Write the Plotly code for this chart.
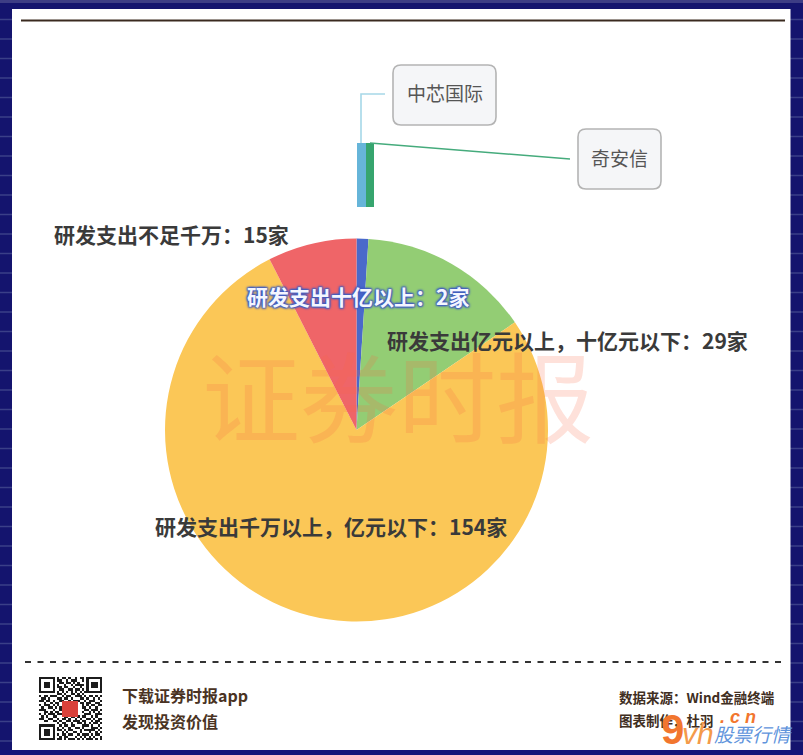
import plotly.graph_objects as go

W, H = 803, 755
FONT = "Noto Sans CJK SC"

# ---- data ----
pie_names = ["研发支出十亿以上", "研发支出亿元以上，十亿元以下", "研发支出千万以上，亿元以下", "研发支出不足千万"]
pie_values = [2, 29, 154, 15]
pie_colors = ["#4a69cb", "#93cd74", "#fbc757", "#ef6568"]
detail_names = ["中芯国际", "奇安信"]
detail_values = [1, 1]
detail_colors = ["#66b5d9", "#36a56e"]
qr_rows = [
    "1111111010110100101101111111",
    "1000001011001011100101000001",
    "1011101001101101010001011101",
    "1011101010010010111101011101",
    "1011101011011001001001011101",
    "1000001001100110110101000001",
    "1111111010101010101011111111",
    "0000000011010011010100000000",
    "1011011100101100111010110101",
    "0110100011011010001101001010",
    "1101101001100101110010111001",
    "0010010110011011001101100110",
    "1011101010110000000101011011",
    "0100110101010000000110100100",
    "1110001001100000000011011101",
    "0011010110100000000100101010",
    "1010111011010000000011100111",
    "0101001100011011010110010100",
    "1100110010110100101001101011",
    "0011001101001101110110010110",
    "0000000010110010011010101101",
    "1111111001011011000111010010",
    "1000001010100100110100011101",
    "1011101011010110001011111010",
    "1011101000101001101000100101",
    "1011101010110110010111010110",
    "1000001001011000101010101001",
    "1111111011010111010101110101",
]
qr_z = [[int(c) for c in row] for row in qr_rows]


def px(x):
    return x / W


def py(y):
    return 1 - y / H


fig = go.Figure()

fig.add_trace(go.Pie(
    labels=pie_names, values=pie_values, sort=False, direction="clockwise", rotation=0,
    marker=dict(colors=pie_colors, line=dict(width=0)), textinfo="none", showlegend=False,
    hoverinfo="label+value",
    domain=dict(x=[px(165), px(548)], y=[py(622), py(238)]),
))

for name, val, col, off in zip(detail_names, detail_values, detail_colors, [0, 1]):
    fig.add_trace(go.Bar(x=[off], y=[val], name=name, marker=dict(color=col, line=dict(width=0)),
                         width=1, showlegend=False, xaxis="x", yaxis="y"))

fig.add_trace(go.Heatmap(z=qr_z, colorscale=[[0, "#ffffff"], [1, "#1c1c1c"]], showscale=False,
                         xaxis="x2", yaxis="y2", hoverinfo="skip"))

shapes = []
# page background with faint stripes
shapes.append(dict(type="rect", xref="paper", yref="paper", x0=0, x1=1, y0=0, y1=1,
                   fillcolor="#14146e", line_width=0, layer="below"))
k = 0
while k * 19.5 < H:
    y = k * 19.5
    shapes.append(dict(type="line", xref="paper", yref="paper", x0=0, x1=1, y0=py(y), y1=py(y),
                       line=dict(color="#3a3f88", width=1.4), layer="below"))
    k += 1
shapes.append(dict(type="rect", xref="paper", yref="paper", x0=0, x1=1, y0=py(3), y1=py(0),
                   fillcolor="#3d3d85", line_width=0, layer="below"))
shapes.append(dict(type="rect", xref="paper", yref="paper", x0=0, x1=1, y0=py(755), y1=py(750),
                   fillcolor="#14147a", line_width=0, layer="below"))
# white panel
shapes.append(dict(type="rect", xref="paper", yref="paper", x0=px(12), x1=px(790.5), y0=py(750), y1=py(9),
                   fillcolor="#ffffff", line_width=0, layer="below"))
# rules
shapes.append(dict(type="line", xref="paper", yref="paper", x0=px(21), x1=px(785), y0=py(20.5), y1=py(20.5),
                   line=dict(color="#3a2a1f", width=2)))
shapes.append(dict(type="line", xref="paper", yref="paper", x0=px(25), x1=px(781), y0=py(662), y1=py(662),
                   line=dict(color="#333333", width=2, dash="6px,6.5px")))
# leader lines
shapes.append(dict(type="path", xref="paper", yref="paper",
                   path=f"M {px(361)} {py(143)} L {px(361)} {py(94)} L {px(385)} {py(94)}",
                   line=dict(color="#a6d8e8", width=1.6)))
shapes.append(dict(type="line", xref="paper", yref="paper", x0=px(370), y0=py(143), x1=px(570), y1=py(159),
                   line=dict(color="#45ab7c", width=1.6)))


def rbox(x0, y0, x1, y1, r=8):
    p = (f"M {px(x0+r)} {py(y0)} L {px(x1-r)} {py(y0)} Q {px(x1)} {py(y0)} {px(x1)} {py(y0+r)} "
         f"L {px(x1)} {py(y1-r)} Q {px(x1)} {py(y1)} {px(x1-r)} {py(y1)} "
         f"L {px(x0+r)} {py(y1)} Q {px(x0)} {py(y1)} {px(x0)} {py(y1-r)} "
         f"L {px(x0)} {py(y0+r)} Q {px(x0)} {py(y0)} {px(x0+r)} {py(y0)} Z")
    return dict(type="path", xref="paper", yref="paper", path=p, fillcolor="#f5f6f8",
                line=dict(color="#b4b4b4", width=1.6))


shapes.append(rbox(393, 65, 496, 125))
shapes.append(rbox(578, 129, 661, 189))
# QR stamp
shapes.append(dict(type="rect", xref="paper", yref="paper", x0=px(62), x1=px(78), y0=py(717), y1=py(701),
                   fillcolor="#d9413a", line_width=0))


def note(text, x, y, size, color, anchor="left", bold=False, italic=False, shadow=None, family=FONT):
    f = dict(family=family, size=size, color=color)
    if bold:
        f["weight"] = 700
    if italic:
        f["style"] = "italic"
    if shadow:
        f["shadow"] = shadow
    return dict(text=text, x=px(x), y=py(y), xref="paper", yref="paper", showarrow=False,
                xanchor=anchor, yanchor="middle", font=f)


lbl = "#3a3a3a"
anns = [
    note("证券时报", 398, 392, 98, "rgba(250,105,70,0.20)", anchor="center"),
    note(f"{pie_names[3]}：{pie_values[3]}家", 52, 234, 21, lbl, bold=True),
    note(f"{pie_names[1]}：{pie_values[1]}家", 385, 340, 21, lbl, bold=True),
    note(f"{pie_names[2]}：{pie_values[2]}家", 153, 526, 21, lbl, bold=True),
    note(f"{pie_names[0]}：{pie_values[0]}家", 245, 296, 21, "#f4f6ff", bold=True,
         shadow="1px 1px 2px #3f5cc0, -1px -1px 2px #3f5cc0, 1px -1px 2px #3f5cc0, -1px 1px 2px #3f5cc0"),
    note(detail_names[0], 444.5, 92, 19, "#555555", anchor="center"),
    note(detail_names[1], 619.5, 158, 19, "#555555", anchor="center"),
    note("下载证券时报app", 120, 695, 16, "#4a3323", bold=True),
    note("发现投资价值", 120, 721, 16, "#4a3323", bold=True),
    note("数据来源：Wind金融终端", 617, 697, 13.5, "#3f2e22", bold=True),
    note("图表制作：杜羽", 617, 720, 13.5, "#3f2e22", bold=True),
    note("9", 672, 729, 42, "#f2762e", anchor="center", bold=True, family="Liberation Sans"),
    note("vh", 698, 733, 30, "#f49a4a", anchor="center", italic=True, family="Liberation Sans"),
    note("股票行情", 753, 733, 19, "#5f94dc", anchor="center", italic=True),
    note(". c n", 738, 717, 18, "#f2762e", anchor="center", bold=True, italic=True, family="Liberation Sans"),
]

fig.update_layout(
    width=W, height=H, autosize=False,
    margin=dict(l=0, r=0, t=0, b=0),
    paper_bgcolor="#ffffff", plot_bgcolor="rgba(0,0,0,0)",
    barmode="overlay", bargap=0,
    shapes=shapes, annotations=anns,
    font=dict(family=FONT),
    xaxis=dict(domain=[px(357), px(374)], range=[-0.5, 1.5], visible=False, fixedrange=True),
    yaxis=dict(domain=[py(207), py(143)], range=[0, 1], visible=False, fixedrange=True),
    xaxis2=dict(domain=[px(39), px(102)], visible=False, anchor="y2", fixedrange=True),
    yaxis2=dict(domain=[py(740), py(677)], visible=False, anchor="x2", autorange="reversed", fixedrange=True),
)

fig.write_html("out.html", config=dict(displayModeBar=False),
               post_script="document.body.style.margin='0';document.body.style.overflow='hidden';")
